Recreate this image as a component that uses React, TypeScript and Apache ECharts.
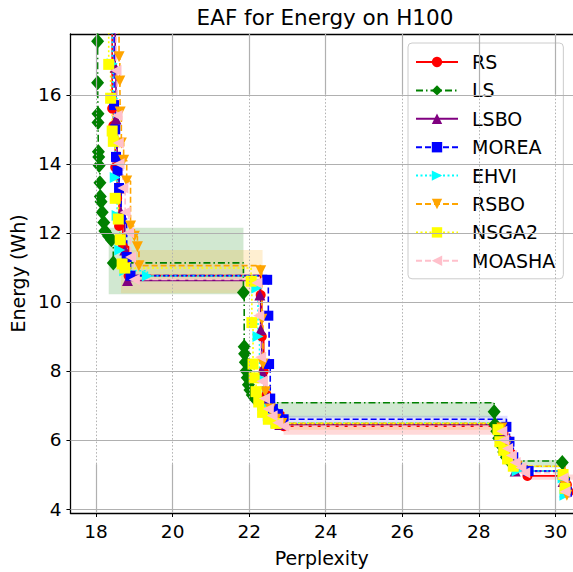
import React, { useEffect, useRef } from "react";
import * as echarts from "echarts";

const titleText = "EAF for Energy on H100";
const xName = "Perplexity";
const yName = "Energy (Wh)";
const xTicks = [18, 20, 22, 24, 26, 28, 30];
const yTicks = [4, 6, 8, 10, 12, 14, 16];
const xRange = [17.33, 30.46];
const yRange = [3.885, 17.76];

const names = ["RS", "LS", "LSBO", "MOREA", "EHVI", "RSBO", "NSGA2", "MOASHA"];
const colors = ["#ff0000", "#008000", "#800080", "#0000ff", "#00ffff", "#ffa500", "#ffff00", "#ffc0cb"];
const symbols = ["circle", "diamond", "triangle", "rect", "triangle", "triangle", "rect", "triangle"];
const rotations = [0, 0, 0, 0, -90, 180, 0, 90];

const rsData = [
  [18.42, 18.2], [18.42, 15.6], [18.45, 15.1], [18.5, 13.9], [18.55, 13.0], [18.6, 12.2], [18.7, 11.6],
  [18.85, 10.76], [22.3, 10.2], [22.33, 9.0], [22.38, 8.0], [22.45, 7.3], [22.6, 6.8], [22.9, 6.4],
  [28.75, 6.0], [28.85, 5.6], [29.0, 5.2], [29.27, 4.96], [30.3, 4.7], [30.35, 4.5],
];
const lsData = [
  [18.04, 18.2], [18.04, 17.55], [18.04, 16.35], [18.05, 15.45], [18.05, 15.2], [18.06, 14.35], [18.07, 14.2],
  [18.08, 13.95], [18.1, 13.45], [18.11, 13.05], [18.13, 12.9], [18.16, 12.6], [18.2, 12.3], [18.23, 12.05],
  [18.33, 11.9], [18.4, 11.8], [18.45, 11.13], [21.85, 10.27], [21.87, 8.7], [21.88, 8.5], [21.9, 8.25],
  [21.92, 8.0], [21.95, 7.8], [21.98, 7.6], [22.02, 7.45], [22.08, 7.3], [22.15, 7.2], [22.3, 7.08],
  [28.4, 6.82], [28.42, 6.45], [28.47, 6.25], [28.52, 6.05], [28.58, 5.85], [28.65, 5.65], [28.72, 5.5],
  [28.8, 5.39], [30.18, 5.35], [30.22, 4.9],
];
const lsboData = [
  [18.5, 18.2], [18.5, 16.8], [18.52, 15.3], [18.55, 14.2], [18.6, 13.3], [18.65, 12.6], [18.75, 11.5],
  [18.82, 10.62], [22.28, 10.2], [22.3, 9.2], [22.33, 8.0], [22.4, 7.2], [22.55, 6.7], [22.8, 6.45],
  [28.65, 6.2], [28.7, 5.8], [28.8, 5.5], [28.95, 5.1], [30.2, 4.8], [30.25, 4.5],
];
const moreaData = [
  [18.47, 18.2], [18.47, 15.7], [18.5, 15.0], [18.52, 14.2], [18.56, 13.8], [18.6, 13.3], [18.65, 12.4],
  [18.8, 11.3], [18.9, 10.76], [22.47, 10.64], [22.5, 9.6], [22.52, 8.2], [22.55, 7.2], [22.62, 6.9],
  [22.75, 6.75], [22.9, 6.6], [28.72, 6.38], [28.8, 5.95], [28.9, 5.5], [29.0, 5.25], [29.3, 5.1],
  [30.25, 4.75], [30.3, 4.5],
];
const ehviData = [
  [18.42, 18.2], [18.42, 16.9], [18.44, 15.9], [18.46, 14.8], [18.5, 13.6], [18.55, 12.5], [18.62, 11.5],
  [18.75, 10.9], [19.34, 10.75], [22.2, 10.4], [22.23, 9.0], [22.27, 7.8], [22.35, 7.0], [22.5, 6.7],
  [22.7, 6.5], [28.6, 6.3], [28.68, 5.9], [28.8, 5.5], [29.0, 5.1], [30.2, 4.9], [30.25, 4.4],
];
const rsboData = [
  [18.6, 18.2], [18.6, 17.1], [18.62, 16.4], [18.63, 15.5], [18.66, 14.6], [18.72, 14.1], [18.8, 13.5],
  [18.9, 12.2], [19.0, 11.9], [19.08, 11.6], [19.12, 11.05], [22.3, 10.9], [22.33, 9.5], [22.36, 8.2],
  [22.42, 7.4], [22.55, 6.9], [22.7, 6.6], [22.85, 6.48], [28.6, 6.35], [28.7, 5.8], [28.85, 5.5],
  [29.0, 5.24], [30.25, 4.67], [30.3, 4.4],
];
const nsga2Data = [
  [18.33, 18.2], [18.33, 16.88], [18.38, 15.9], [18.42, 14.95], [18.45, 14.65], [18.5, 13.0], [18.58, 12.4],
  [18.63, 11.8], [18.68, 11.1], [18.75, 10.98], [22.05, 10.6], [22.07, 9.4], [22.1, 8.2], [22.13, 7.8],
  [22.18, 7.4], [22.25, 7.1], [22.35, 6.8], [22.5, 6.6], [22.7, 6.48], [28.5, 6.3], [28.55, 5.95],
  [28.65, 5.7], [28.75, 5.45], [28.9, 5.24], [30.2, 5.0], [30.25, 4.6],
];
const moashaData = [
  [18.52, 18.2], [18.52, 16.7], [18.55, 15.4], [18.58, 14.6], [18.6, 14.0], [18.7, 13.3], [18.76, 12.6],
  [18.85, 12.0], [18.9, 11.3], [19.0, 10.65], [22.2, 10.55], [22.25, 9.6], [22.3, 8.4], [22.33, 7.7],
  [22.4, 7.2], [22.5, 6.9], [22.6, 6.7], [22.75, 6.5], [22.9, 6.4], [28.6, 6.25], [28.65, 6.0],
  [28.75, 5.75], [28.85, 5.55], [28.95, 5.35], [29.1, 5.2], [29.2, 5.05], [30.2, 4.9], [30.25, 4.5],
];
const seriesData = [rsData, lsData, lsboData, moreaData, ehviData, rsboData, nsga2Data, moashaData];

// shaded attainment bands: [x1, y1, x2, y2] per series
const rsShade = [[22.9, 6.15, 28.75, 6.45], [29.2, 4.85, 30.46, 5.0]];
const lsShade = [[18.33, 10.22, 21.85, 12.15], [22.3, 6.65, 28.4, 7.1], [28.8, 5.2, 30.2, 5.42]];
const lsboShade: number[][] = [];
const moreaShade = [[22.6, 6.4, 28.75, 6.7]];
const ehviShade: number[][] = [];
const rsboShade = [[18.65, 10.25, 22.35, 11.5], [22.8, 6.3, 28.6, 6.5]];
const nsga2Shade: number[][] = [];
const moashaShade = [[18.7, 10.35, 22.25, 10.75]];
const shades = [rsShade, lsShade, lsboShade, moreaShade, ehviShade, rsboShade, nsga2Shade, moashaShade];
const shadeAlpha = [0.15, 0.18, 0.15, 0.12, 0.15, 0.18, 0.15, 0.25];

function hexToRgba(hex: string, a: number) {
  const r = parseInt(hex.slice(1, 3), 16);
  const g = parseInt(hex.slice(3, 5), 16);
  const b = parseInt(hex.slice(5, 7), 16);
  return `rgba(${r},${g},${b},${a})`;
}

const lineTypes: any[] = ["solid", [7, 3, 1.5, 3], "solid", [6, 3], [2, 2.5], [6, 3], [2, 2.5], [6, 3]];
const symbolSizes: any[] = [10, [13, 15], 11, 10, 11, 11, 11, 11];

export default function App() {
  const ref = useRef<HTMLDivElement>(null);
  useEffect(() => {
    if (!ref.current) return;
    const chart = echarts.init(ref.current, null, { renderer: "svg" });
    const font = "DejaVu Sans";
    const gridGray = "#b0b0b0";

    const vSolidSegs: any[] = [];
    const vDotSegs: any[] = [];
    xTicks.forEach((x) => {
      vSolidSegs.push([{ coord: [x, 16] }, { coord: [x, yRange[1]] }]);
      vSolidSegs.push([{ coord: [x, yRange[0]] }, { coord: [x, 5.3] }]);
      vDotSegs.push([{ coord: [x, 5.3] }, { coord: [x, 16] }]);
    });

    const gridSeries: any[] = [
      {
        type: "line",
        name: "_gridH",
        data: [],
        silent: true,
        z: 0,
        markLine: {
          silent: true,
          symbol: ["none", "none"],
          label: { show: false },
          lineStyle: { color: gridGray, width: 1.2, type: "solid" },
          data: yTicks.map((y) => ({ yAxis: y })),
          animation: false,
        },
      },
      {
        type: "line",
        name: "_gridVs",
        data: [],
        silent: true,
        z: 0,
        markLine: {
          silent: true,
          symbol: ["none", "none"],
          label: { show: false },
          lineStyle: { color: gridGray, width: 1.2, type: "solid" },
          data: vSolidSegs,
          animation: false,
        },
      },
      {
        type: "line",
        name: "_gridVd",
        data: [],
        silent: true,
        z: 0,
        markLine: {
          silent: true,
          symbol: ["none", "none"],
          label: { show: false },
          lineStyle: { color: gridGray, width: 1, type: [1.5, 2] },
          data: vDotSegs,
          animation: false,
        },
      },
    ];

    const mainSeries = names.map((n, i) => ({
      type: "line",
      name: n,
      data: seriesData[i],
      step: "end",
      symbol: symbols[i],
      symbolRotate: rotations[i],
      symbolSize: symbolSizes[i],
      showSymbol: true,
      showAllSymbol: true,
      clip: true,
      z: 2,
      lineStyle: { color: colors[i], width: 1.6, type: lineTypes[i] },
      itemStyle: { color: colors[i], borderWidth: 0 },
      markArea: shades[i].length
        ? {
            silent: true,
            itemStyle: { color: hexToRgba(colors[i], shadeAlpha[i]) },
            data: shades[i].map((s) => [{ coord: [s[0], s[1]] }, { coord: [s[2], s[3]] }]),
          }
        : undefined,
    }));

    chart.setOption({
      animation: false,
      textStyle: { fontFamily: font },
      graphic: [
        {
          type: "text",
          x: 325,
          y: 17,
          style: {
            text: titleText,
            fontSize: 21.5,
            fontFamily: font,
            fill: "#000",
            align: "center",
            verticalAlign: "middle",
          },
        },
      ],
      grid: { left: 70, right: 0, top: 34, bottom: 55, containLabel: false },
      xAxis: [
        {
          type: "value",
          min: xRange[0],
          max: xRange[1],
          name: xName,
          nameLocation: "middle",
          nameGap: 35,
          nameTextStyle: { fontSize: 19, color: "#000", fontFamily: font },
          axisLine: { show: true, lineStyle: { color: "#000", width: 1.3 } },
          axisTick: { show: true, customValues: xTicks, length: 4, lineStyle: { color: "#000", width: 1 } },
          axisLabel: { customValues: xTicks, fontSize: 18.5, color: "#000", fontFamily: font, margin: 9 },
          splitLine: { show: false },
        },
        {
          type: "value",
          position: "top",
          min: xRange[0],
          max: xRange[1],
          axisLine: { show: true, lineStyle: { color: "#000", width: 1.3 } },
          axisTick: { show: false },
          axisLabel: { show: false },
          splitLine: { show: false },
        },
      ],
      yAxis: {
        type: "value",
        min: yRange[0],
        max: yRange[1],
        name: yName,
        nameLocation: "middle",
        nameGap: 41,
        nameTextStyle: { fontSize: 19, color: "#000", fontFamily: font },
        axisLine: { show: true, lineStyle: { color: "#000", width: 1.3 } },
        axisTick: { show: true, customValues: yTicks, length: 4, lineStyle: { color: "#000", width: 1 } },
        axisLabel: { customValues: yTicks, fontSize: 18.5, color: "#000", fontFamily: font, margin: 9 },
        splitLine: { show: false },
      },
      legend: {
        orient: "vertical",
        left: 408,
        top: 43,
        data: names,
        backgroundColor: "rgba(255,255,255,0.92)",
        borderColor: "#cccccc",
        borderWidth: 1,
        borderRadius: 4,
        padding: [8, 8, 7, 7],
        itemGap: 6.4,
        itemWidth: 42,
        itemHeight: 13,
        textStyle: { fontSize: 19, fontFamily: font, color: "#000", padding: [0, 0, 0, 9], lineHeight: 22 },
      },
      series: [...gridSeries, ...mainSeries],
    });
    return () => chart.dispose();
  }, []);
  return (
    <div
      ref={ref}
      style={{ position: "fixed", left: 0, top: 0, width: 573, height: 572, background: "#fff" }}
    />
  );
}
